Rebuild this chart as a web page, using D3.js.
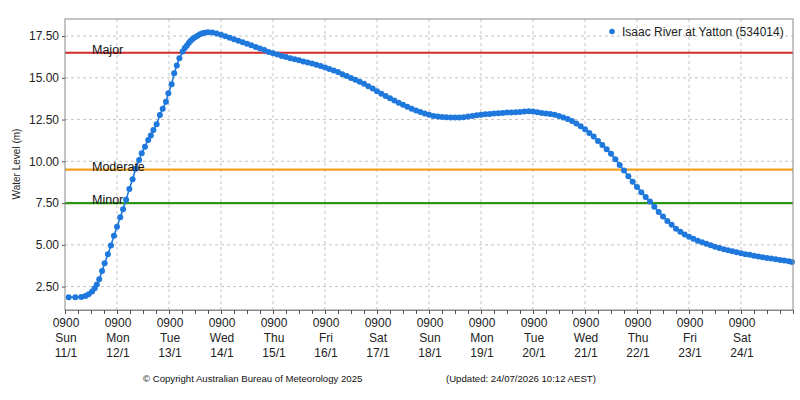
<!DOCTYPE html>
<html><head><meta charset="utf-8">
<script src="https://cdn.jsdelivr.net/npm/d3@7"></script>
<style>body{margin:0;background:#fff}svg{display:block;font-family:"Liberation Sans",Arial,sans-serif}</style>
</head><body><svg id="c" width="800" height="400"></svg>
<script>
// hours after 0900 Sun 11/1
const hours = [1.7,4.75,7.5,9.4,10.9,12.5,13.7,14.7,15.8,17.1,18.3,19.8,21.2,22.6,24.0,25.5,26.8,28.2,29.7,31.2,32.6,34.2,35.4,36.9,38.4,39.6,40.8,42.3,43.8,45.1,46.6,47.7,49.2,50.4,51.6,52.8,54.3,55.3,56.2,57.1,58.0,59.0,60.0,61.2,62.3,63.5,64.6,
66,68,70,72,74,76,78,80,82,84,86,88,90,92,94,96,98,100,102,104,106,108,110,112,114,116,118,120,122,124,126,128,130,132,134,136,138,140,142,144,146,148,150,152,154,156,158,160,162,164,166,168,170,172,174,176,178,180,182,184,186,188,190,192,194,196,198,200,202,204,206,208,210,212,214,216,218,220,222,224,226,228,230,232,234,236,238,240,242,244,246,248,250,252,254,256,258,260,262,264,266,268,270,272,274,276,278,280,282,284,286,288,290,292,294,296,298,300,302,304,306,308,310,312,314,316,318,320,322,324,326,328,330,332,334,335.5];
const levels = [1.87,1.87,1.88,1.94,2.05,2.2,2.4,2.62,2.94,3.44,3.9,4.44,4.96,5.55,6.09,6.65,7.13,7.7,8.35,8.93,9.55,10.08,10.48,10.88,11.28,11.55,11.88,12.22,12.78,13.14,13.57,14.08,14.61,15.27,15.73,16.17,16.57,16.78,16.92,17.08,17.22,17.34,17.43,17.52,17.60,17.66,17.70,
17.72,17.71,17.65,17.57,17.48,17.40,17.31,17.22,17.13,17.04,16.95,16.85,16.76,16.66,16.55,16.47,16.39,16.31,16.24,16.17,16.11,16.05,15.98,15.92,15.85,15.78,15.70,15.62,15.53,15.44,15.34,15.22,15.11,14.99,14.88,14.77,14.64,14.50,14.36,14.20,14.05,13.91,13.77,13.64,13.51,13.38,13.26,13.15,13.05,12.96,12.87,12.79,12.72,12.68,12.65,12.64,12.63,12.63,12.63,12.64,12.68,12.72,12.76,12.79,12.82,12.84,12.86,12.88,12.90,12.92,12.93,12.94,12.96,12.99,13.00,12.98,12.94,12.90,12.87,12.83,12.79,12.72,12.63,12.53,12.42,12.26,12.10,11.92,11.70,11.48,11.22,10.98,10.72,10.46,10.12,9.78,9.45,9.10,8.78,8.46,8.15,7.87,7.59,7.28,6.97,6.69,6.43,6.20,5.97,5.78,5.62,5.48,5.36,5.24,5.15,5.06,4.97,4.88,4.81,4.74,4.67,4.61,4.55,4.49,4.44,4.40,4.35,4.30,4.26,4.22,4.18,4.14,4.10,4.06,4.02,3.98];

const yTicks = [2.5,5,7.5,10,12.5,15,17.5];
const tickTimes = ["0900","0900","0900","0900","0900","0900","0900","0900","0900","0900","0900","0900","0900","0900"];
const tickDays = ["Sun","Mon","Tue","Wed","Thu","Fri","Sat","Sun","Mon","Tue","Wed","Thu","Fri","Sat"];
const tickDates = ["11/1","12/1","13/1","14/1","15/1","16/1","17/1","18/1","19/1","20/1","21/1","22/1","23/1","24/1"];
const floodNames = ["Major","Moderate","Minor"];
const floodLevels = [16.5,9.5,7.5];
const floodColors = ["#d42a2a","#f0a020","#2e9414"];
const seriesName = "Isaac River at Yatton (534014)";

const svg = d3.select("#c");
const L=65,R=793,T=19,B=310;
const start = new Date(2026,0,11,9);
const t = h => new Date(start.getTime()+h*3600e3);
const x = d3.scaleTime().domain([start, t(336)]).range([L,R]);
const y = d3.scaleLinear().domain([1.1,18.52]).range([B,T]);

// grid
const g = svg.append("g");
g.selectAll(".hg").data(yTicks).join("line")
  .attr("x1",L).attr("x2",R).attr("y1",d=>y(d)).attr("y2",d=>y(d))
  .attr("stroke","#c4c4c4").attr("stroke-dasharray","3,3");
const dayTicks = d3.range(0,14).map(i=>t(i*24));
g.selectAll(".vg").data(dayTicks.slice(1)).join("line")
  .attr("x1",d=>x(d)).attr("x2",d=>x(d)).attr("y1",T).attr("y2",B)
  .attr("stroke","#c4c4c4").attr("stroke-dasharray","3,3");

// flood lines
floodLevels.forEach((v,i)=>{
  svg.append("line").attr("x1",L).attr("x2",R).attr("y1",y(v)).attr("y2",y(v))
    .attr("stroke",floodColors[i]).attr("stroke-width",2.2);
});

// series
const pts = hours.map((h,i)=>({d:t(h),v:levels[i]}));
const col = "#1f78dc";
svg.append("path").datum(pts).attr("fill","none").attr("stroke",col).attr("stroke-width",1.6)
  .attr("d",d3.line().x(d=>x(d.d)).y(d=>y(d.v)));
svg.append("g").selectAll("circle").data(pts).join("circle")
  .attr("cx",d=>x(d.d)).attr("cy",d=>y(d.v)).attr("r",3).attr("fill",col);

// flood labels
floodLevels.forEach((v,i)=>{
  svg.append("text").attr("x",92).attr("y",y(v)+1).attr("font-size",12.5).attr("fill","#111").text(floodNames[i]);
});

// frame
svg.append("rect").attr("x",L).attr("y",T).attr("width",R-L).attr("height",B-T)
  .attr("fill","none").attr("stroke","#8a8a8a");

// y axis
const ya = svg.append("g").attr("transform",`translate(${L},0)`)
  .call(d3.axisLeft(y).tickValues(yTicks).tickFormat(d3.format(".2f")).tickSize(3).tickPadding(3));
ya.select(".domain").remove();
ya.selectAll("line").attr("stroke","#555");
ya.selectAll("text").attr("font-size",12).attr("font-family","Liberation Sans, Arial").attr("fill","#222");

svg.append("text").attr("transform","translate(20,164) rotate(-90)").attr("text-anchor","middle")
  .attr("font-size",10).attr("fill","#222").text("Water Level (m)");

// x axis
const minor = d3.range(0,57).map(i=>t(i*6));
const xa = svg.append("g").attr("transform",`translate(0,${B})`)
  .call(d3.axisBottom(x).tickValues(minor).tickFormat("").tickSize(4));
xa.select(".domain").attr("stroke","#8a8a8a");
xa.selectAll("line").attr("stroke","#555");
const lab = svg.append("g").attr("font-size",12).attr("fill","#222").attr("text-anchor","middle");
dayTicks.forEach((d,i)=>{
  const tx = lab.append("text").attr("x",x(d)+1);
  tx.append("tspan").attr("x",x(d)+1).attr("y",327).text(tickTimes[i]);
  tx.append("tspan").attr("x",x(d)+1).attr("y",342).text(tickDays[i]);
  tx.append("tspan").attr("x",x(d)+1).attr("y",357).text(tickDates[i]);
});

// legend
svg.append("circle").attr("cx",612).attr("cy",31.5).attr("r",2.8).attr("fill",col);
svg.append("text").attr("x",622).attr("y",36).attr("font-size",12).attr("fill","#222").text(seriesName);

// footer
svg.append("text").attr("x",143).attr("y",382).attr("font-size",9.6).attr("fill","#111").text("© Copyright Australian Bureau of Meteorology 2025");
svg.append("text").attr("x",446).attr("y",382).attr("font-size",9.6).attr("fill","#111").text("(Updated: 24/07/2026 10:12 AEST)");
</script></body></html>
